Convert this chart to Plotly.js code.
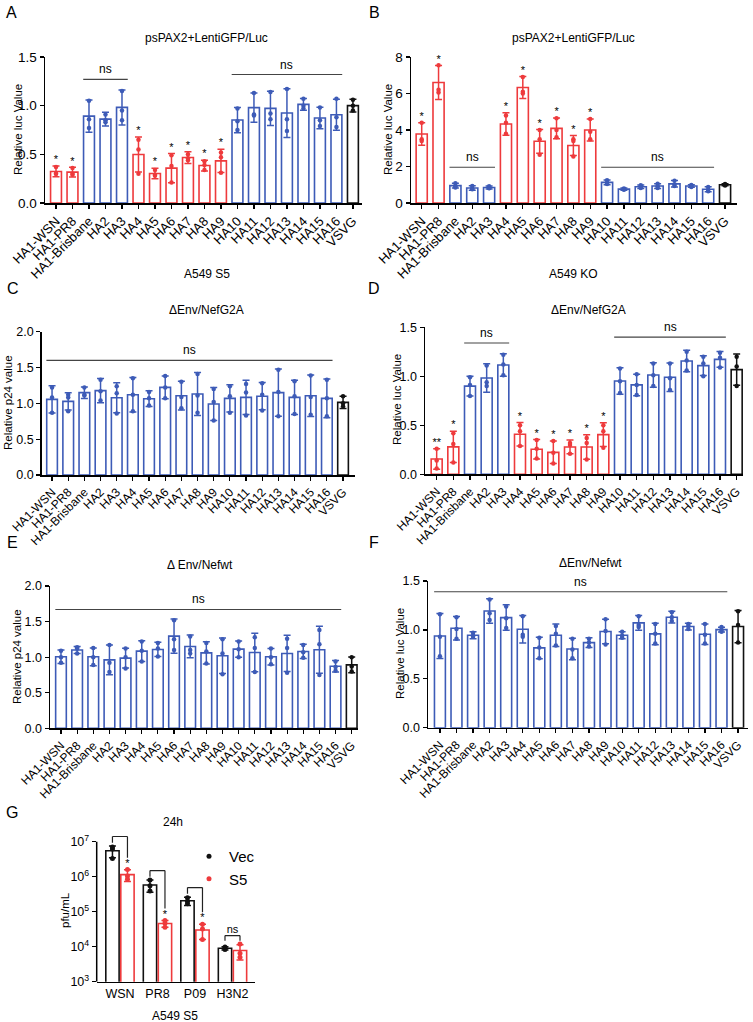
<!DOCTYPE html>
<html>
<head>
<meta charset="utf-8">
<script src="https://cdn.plot.ly/plotly-3.0.1.min.js"></script>
<style>
  html, body { margin: 0; padding: 0; background: #fff; }
  #chart { width: 753px; height: 1022px; }
</style>
</head>
<body>
<div id="chart"></div>
<script>
'use strict';

// ---- data ----
const haCats = ['HA1-WSN', 'HA1-PR8', 'HA1-Brisbane', 'HA2', 'HA3', 'HA4', 'HA5', 'HA6', 'HA7',
    'HA8', 'HA9', 'HA10', 'HA11', 'HA12', 'HA13', 'HA14', 'HA15', 'HA16', 'VSVG'];
const redHa = ['HA1-WSN', 'HA1-PR8', 'HA4', 'HA5', 'HA6', 'HA7', 'HA8', 'HA9'];

// A: psPAX2+LentiGFP/Luc, A549 S5
const aMean = [0.324, 0.317, 0.893, 0.862, 0.982, 0.498, 0.303, 0.358, 0.467, 0.385, 0.433,
    0.852, 0.980, 0.972, 0.924, 1.013, 0.873, 0.907, 1.000];
const aSd = [0.055, 0.050, 0.165, 0.070, 0.180, 0.180, 0.055, 0.150, 0.060, 0.055, 0.120,
    0.130, 0.150, 0.175, 0.250, 0.060, 0.110, 0.160, 0.065];
const aPts = [[0.37, 0.30, 0.30], [0.36, 0.30, 0.29], [1.05, 0.86, 0.77], [0.91, 0.85, 0.83],
    [1.15, 0.95, 0.85], [0.65, 0.55, 0.30], [0.34, 0.29, 0.28], [0.49, 0.38, 0.21],
    [0.50, 0.46, 0.44], [0.43, 0.39, 0.34], [0.52, 0.47, 0.31], [0.97, 0.84, 0.75],
    [1.13, 0.91, 0.90], [1.14, 0.92, 0.86], [1.17, 0.86, 0.74], [1.07, 1.00, 0.97],
    [0.98, 0.85, 0.79], [1.07, 0.88, 0.78], [1.06, 1.00, 0.95]];
const aSig = ['*', '*', '', '', '', '*', '*', '*', '*', '*', '*', '', '', '', '', '', '', '', ''];

// B: psPAX2+LentiGFP/Luc, A549 KO
const bMean = [3.78, 6.60, 0.95, 0.82, 0.85, 4.33, 6.33, 3.38, 4.09, 3.15, 4.00,
    1.13, 0.76, 0.89, 0.93, 1.05, 0.93, 0.75, 1.00];
const bSd = [0.62, 0.93, 0.13, 0.12, 0.08, 0.62, 0.60, 0.65, 0.57, 0.55, 0.60,
    0.13, 0.06, 0.10, 0.13, 0.18, 0.07, 0.14, 0.05];
const bPts = [[4.40, 3.50, 3.40], [7.55, 6.20, 6.05], [1.08, 0.92, 0.85], [0.93, 0.78, 0.75],
    [0.92, 0.82, 0.81], [4.80, 4.40, 3.80], [6.90, 6.10, 6.00], [4.00, 3.50, 2.65],
    [4.65, 4.00, 3.60], [3.50, 3.40, 2.55], [4.60, 3.90, 3.50], [1.25, 1.10, 1.04],
    [0.80, 0.76, 0.73], [0.97, 0.88, 0.82], [1.05, 0.92, 0.82], [1.22, 1.00, 0.93],
    [0.98, 0.93, 0.88], [0.88, 0.72, 0.65], [1.04, 1.00, 0.96]];
const bSig = aSig;

// C: ΔEnv/NefG2A, p24
const cMean = [1.056, 1.028, 1.149, 1.177, 1.079, 1.121, 1.065, 1.223, 1.107, 1.130, 0.990,
    1.070, 1.084, 1.100, 1.149, 1.084, 1.107, 1.070, 1.014];
const cSd = [0.19, 0.12, 0.08, 0.17, 0.21, 0.24, 0.11, 0.16, 0.20, 0.30, 0.23,
    0.19, 0.24, 0.19, 0.33, 0.24, 0.29, 0.27, 0.085];
const cPts = [[1.22, 1.08, 0.87], [1.12, 1.08, 0.89], [1.22, 1.12, 1.11], [1.33, 1.17, 1.04],
    [1.24, 1.14, 0.86], [1.35, 1.12, 0.89], [1.16, 1.07, 0.97], [1.38, 1.22, 1.07],
    [1.30, 1.09, 0.93], [1.41, 1.11, 0.87], [1.20, 1.02, 0.76], [1.24, 1.10, 0.87],
    [1.27, 1.15, 0.83], [1.28, 1.12, 0.90], [1.47, 1.16, 0.82], [1.31, 1.10, 0.85],
    [1.39, 1.09, 0.84], [1.33, 1.07, 0.82], [1.10, 1.00, 0.96]];

// D: ΔEnv/NefG2A, luc
const dMean = [0.156, 0.280, 0.900, 0.983, 1.116, 0.408, 0.255, 0.224, 0.279, 0.279, 0.405,
    0.952, 0.912, 1.014, 0.990, 1.156, 1.109, 1.173, 1.068];
const dSd = [0.105, 0.160, 0.100, 0.145, 0.115, 0.120, 0.100, 0.115, 0.070, 0.125, 0.122,
    0.135, 0.110, 0.125, 0.145, 0.110, 0.100, 0.080, 0.160];
const dPts = [[0.26, 0.14, 0.06], [0.42, 0.31, 0.12], [0.99, 0.91, 0.80], [1.11, 0.94, 0.90],
    [1.22, 1.12, 1.01], [0.50, 0.44, 0.29], [0.35, 0.26, 0.16], [0.34, 0.22, 0.11],
    [0.32, 0.30, 0.21], [0.37, 0.32, 0.15], [0.50, 0.44, 0.27], [1.08, 0.95, 0.83],
    [1.02, 0.91, 0.81], [1.13, 1.01, 0.90], [1.13, 0.98, 0.86], [1.25, 1.16, 1.06],
    [1.20, 1.13, 1.00], [1.24, 1.19, 1.09], [1.20, 1.10, 0.90]];
const dSig = ['**', '*', '', '', '', '*', '*', '*', '*', '*', '*', '', '', '', '', '', '', '', ''];

// E: ΔEnv/Nefwt, p24
const eMean = [1.005, 1.100, 1.005, 0.962, 0.986, 1.085, 1.108, 1.296, 1.150, 1.060, 1.020,
    1.113, 1.066, 1.005, 1.052, 1.080, 1.103, 0.873, 0.892];
const eSd = [0.095, 0.050, 0.125, 0.210, 0.140, 0.145, 0.100, 0.240, 0.160, 0.155, 0.250,
    0.115, 0.270, 0.115, 0.255, 0.100, 0.330, 0.080, 0.110];
const ePts = [[1.09, 1.00, 0.92], [1.14, 1.12, 1.05], [1.13, 1.00, 0.89], [1.17, 0.92, 0.79],
    [1.12, 1.00, 0.84], [1.22, 1.09, 0.94], [1.20, 1.12, 1.01], [1.52, 1.25, 1.10],
    [1.29, 1.10, 1.05], [1.20, 1.08, 0.91], [1.25, 1.05, 0.76], [1.22, 1.11, 1.00],
    [1.28, 1.13, 0.79], [1.12, 1.00, 0.90], [1.26, 1.13, 0.78], [1.17, 1.07, 0.99],
    [1.38, 1.18, 0.75], [0.94, 0.86, 0.81], [1.00, 0.87, 0.80]];

// F: ΔEnv/Nefwt, luc
const fMean = [0.938, 1.017, 0.945, 1.194, 1.126, 1.007, 0.816, 0.945, 0.805, 0.870, 0.983,
    0.945, 1.072, 0.959, 1.130, 1.034, 0.956, 1.003, 1.034];
const fSd = [0.230, 0.120, 0.035, 0.125, 0.130, 0.140, 0.110, 0.115, 0.110, 0.050, 0.125,
    0.035, 0.075, 0.110, 0.060, 0.035, 0.105, 0.025, 0.165];
const fPts = [[1.16, 0.93, 0.73], [1.13, 1.01, 0.91], [0.97, 0.94, 0.93], [1.31, 1.17, 1.10],
    [1.24, 1.12, 1.02], [1.14, 0.95, 0.93], [0.92, 0.82, 0.71], [1.04, 0.96, 0.84],
    [0.91, 0.80, 0.71], [0.91, 0.87, 0.83], [1.11, 0.99, 0.85], [0.98, 0.94, 0.92],
    [1.14, 1.05, 1.03], [1.06, 0.96, 0.86], [1.18, 1.13, 1.09], [1.06, 1.04, 1.01],
    [1.06, 0.95, 0.86], [1.03, 1.00, 0.98], [1.19, 1.05, 0.87]];

// G: virus titre 24h, A549 S5
const gCats = ['WSN', 'PR8', 'P09', 'H3N2'];
const gVecMean = [5.5e6, 5.8e5, 2.05e5, 9.0e3];
const gVecSd = [2.0e6, 2.2e5, 5.5e4, 1.0e3];
const gVecPts = [[7.0e6, 6.2e6, 3.3e6], [8.0e5, 5.5e5, 3.9e5], [2.5e5, 2.0e5, 1.7e5], [9.8e3, 9.0e3, 8.3e3]];
const gS5Mean = [1.15e6, 4.6e4, 3.0e4, 7.8e3];
const gS5Sd = [4.2e5, 1.0e4, 1.4e4, 3.6e3];
const gS5Pts = [[1.6e6, 1.05e6, 8.5e5], [5.6e4, 4.7e4, 3.6e4], [4.4e4, 3.2e4, 1.6e4], [1.2e4, 6.5e3, 5.0e3]];
const gSig = ['*', '*', '*', 'ns'];

// ---- styling ----
const FONT = 'Liberation Sans, Arial, sans-serif';
const RED = '#ee3a3c';
const BLUE = '#3d5bb7';
const BLACK = '#111111';
const W = 753, H = 1022;
const px = x => x / W;
const py = y => 1 - y / H;

function colourOf(cat, reds) {
    if (cat === 'VSVG') return BLACK;
    return reds.includes(cat) ? RED : BLUE;
}

const panels = [
    {n: 1, mean: aMean, sd: aSd, pts: aPts, sig: aSig, reds: redHa, x: [45, 362], y: [57, 203],
        xr: [-0.667, 18.55], yr: [0, 1.5], dtick: 0.5, fmt: '.1f', tfs: 13.5, cfs: 13,
        title: 'psPAX2+LentiGFP/Luc', tpos: [207, 38], ytitle: 'Relative luc Value', ypos: [18, 130]},
    {n: 2, mean: bMean, sd: bSd, pts: bPts, sig: bSig, reds: redHa, x: [411, 737], y: [57, 203],
        xr: [-0.635, 18.71], yr: [0, 8], dtick: 2, fmt: 'd', tfs: 13.5, cfs: 13,
        title: 'psPAX2+LentiGFP/Luc', tpos: [573, 38], ytitle: 'Relative luc Value', ypos: [388, 130]},
    {n: 3, mean: cMean, sd: cSd, pts: cPts, sig: null, reds: [], x: [41.7, 355], y: [331.7, 475],
        xr: [-0.64, 18.74], yr: [0, 2], dtick: 0.5, fmt: '.1f', tfs: 12.5, cfs: 12,
        title: 'ΔEnv/NefG2A', tpos: [207, 310], ytitle: 'Relative p24 value', ypos: [8, 403]},
    {n: 4, mean: dMean, sd: dSd, pts: dPts, sig: dSig, reds: redHa, x: [425, 743], y: [327.3, 474.3],
        xr: [-0.70, 18.38], yr: [0, 1.5], dtick: 0.5, fmt: '.1f', tfs: 12.5, cfs: 12,
        title: 'ΔEnv/NefG2A', tpos: [588, 310], ytitle: 'Relative luc Value', ypos: [397, 400]},
    {n: 5, mean: eMean, sd: eSd, pts: ePts, sig: null, reds: [], x: [50, 358], y: [586, 728.3],
        xr: [-0.68, 18.39], yr: [0, 2], dtick: 0.5, fmt: '.1f', tfs: 12.5, cfs: 12,
        title: 'Δ Env/Nefwt', tpos: [200, 565], ytitle: 'Relative p24 value', ypos: [17, 657]},
    {n: 6, mean: fMean, sd: fSd, pts: fPts, sig: null, reds: [], x: [428, 748], y: [581, 727.7],
        xr: [-0.72, 18.6], yr: [0, 1.5], dtick: 0.5, fmt: '.1f', tfs: 12.5, cfs: 12,
        title: 'ΔEnv/Nefwt', tpos: [590, 563], ytitle: 'Relative luc Value', ypos: [400, 654]}
];

const nsLines = [
    {n: 1, from: 'HA1-Brisbane', to: 'HA3', y: 1.27},
    {n: 1, from: 'HA10', to: 'HA16', y: 1.32},
    {n: 2, from: 'HA1-Brisbane', to: 'HA3', y: 1.96},
    {n: 2, from: 'HA10', to: 'HA16', y: 1.96},
    {n: 3, from: 'HA1-WSN', to: 'HA16', y: 1.60},
    {n: 4, from: 'HA1-Brisbane', to: 'HA3', y: 1.34},
    {n: 4, from: 'HA10', to: 'HA16', y: 1.40},
    {n: 5, from: 'HA1-WSN', to: 'HA16', y: 1.67},
    {n: 6, from: 'HA1-WSN', to: 'HA16', y: 1.39}
];

const letters = [['A', 11, 12], ['B', 374, 12], ['C', 13, 288], ['D', 374, 288],
    ['E', 12, 542], ['F', 374, 542], ['G', 12, 812]];

const traces = [];
const layout = {
    width: W,
    height: H,
    margin: {l: 0, r: 0, t: 0, b: 0},
    paper_bgcolor: '#fff',
    plot_bgcolor: 'rgba(0,0,0,0)',
    font: {family: FONT, color: '#000', size: 12},
    barmode: 'overlay',
    showlegend: true,
    legend: {x: px(189), y: py(840), xanchor: 'left', yanchor: 'top', bgcolor: 'rgba(0,0,0,0)',
        font: {size: 15, family: FONT}, itemwidth: 30, tracegroupgap: 0},
    shapes: [],
    annotations: []
};

function note(text, x, y, size, extra) {
    layout.annotations.push(Object.assign({text: text, x: px(x), y: py(y), xref: 'paper', yref: 'paper',
        xanchor: 'center', yanchor: 'middle', showarrow: false,
        font: {size: size, family: FONT, color: '#000'}}, extra || {}));
}

panels.forEach(p => {
    const sfx = p.n === 1 ? '' : String(p.n);
    const xa = 'x' + sfx, ya = 'y' + sfx;

    [RED, BLUE, BLACK].forEach(col => {
        const idx = haCats.map((c, i) => i).filter(i => colourOf(haCats[i], p.reds) === col);
        if (!idx.length) return;
        traces.push({
            type: 'bar', xaxis: xa, yaxis: ya, showlegend: false, hoverinfo: 'skip',
            x: idx.map(i => haCats[i]), y: idx.map(i => p.mean[i]), width: 0.66,
            marker: {color: '#fff', line: {color: col, width: 1.6}},
            error_y: {type: 'data', array: idx.map(i => p.sd[i]), color: col, thickness: 1.5, width: 3.5}
        });
        traces.push({
            type: 'scatter', mode: 'markers', xaxis: xa, yaxis: ya, showlegend: false, hoverinfo: 'skip',
            x: idx.flatMap(i => p.pts[i].map(() => haCats[i])), y: idx.flatMap(i => p.pts[i]),
            marker: {color: col, size: 4.5}
        });
    });

    if (p.sig) {
        const sigIdx = haCats.map((c, i) => i).filter(i => p.sig[i]);
        traces.push({
            type: 'scatter', mode: 'text', xaxis: xa, yaxis: ya, showlegend: false, hoverinfo: 'skip',
            x: sigIdx.map(i => haCats[i]), y: sigIdx.map(i => p.mean[i] + p.sd[i]),
            text: sigIdx.map(i => p.sig[i]),
            textposition: 'top center', cliponaxis: false,
            textfont: {size: 11, family: FONT, color: '#000'}
        });
    }

    layout['xaxis' + sfx] = {
        domain: [px(p.x[0]), px(p.x[1])], anchor: ya, type: 'category',
        categoryorder: 'array', categoryarray: haCats, range: p.xr,
        tickmode: 'linear', tick0: 0, dtick: 1, tickangle: -45,
        showline: true, linecolor: '#000', linewidth: 1.5, ticks: 'outside', ticklen: 4,
        tickwidth: 1.2, tickcolor: '#000', showgrid: false, zeroline: false, fixedrange: true,
        tickfont: {size: p.cfs, family: FONT, color: '#000'}
    };
    layout['yaxis' + sfx] = {
        domain: [py(p.y[1]), py(p.y[0])], anchor: xa, range: p.yr, dtick: p.dtick, tick0: 0,
        tickformat: p.fmt, showline: true, linecolor: '#000', linewidth: 1.5, ticks: 'outside',
        ticklen: 4, tickwidth: 1.2, tickcolor: '#000', showgrid: false, zeroline: false, fixedrange: true,
        tickfont: {size: p.tfs, family: FONT, color: '#000'}
    };

    note(p.title, p.tpos[0], p.tpos[1], 12);
    note(p.ytitle, p.ypos[0], p.ypos[1], 11.5, {textangle: -90});
});

nsLines.forEach(l => {
    const sfx = l.n === 1 ? '' : String(l.n);
    const i0 = haCats.indexOf(l.from), i1 = haCats.indexOf(l.to);
    layout.shapes.push({type: 'line', xref: 'x' + sfx, yref: 'y' + sfx,
        x0: i0 - 0.35, x1: i1 + 0.35, y0: l.y, y1: l.y, line: {color: '#444', width: 1.2}});
    layout.annotations.push({text: 'ns', xref: 'x' + sfx, yref: 'y' + sfx, x: (i0 + i1) / 2, y: l.y,
        yanchor: 'bottom', yshift: 1, showarrow: false, font: {size: 12, family: FONT, color: '#000'}});
});

// ---- panel G ----
const gVecX = gCats.map((c, i) => i - 0.2);
const gS5X = gCats.map((c, i) => i + 0.2);

[[gVecX, gVecMean, gVecSd, gVecPts, BLACK, 'Vec'], [gS5X, gS5Mean, gS5Sd, gS5Pts, RED, 'S5']].forEach(s => {
    const [xs, mean, sd, pts, col, name] = s;
    traces.push({
        type: 'bar', xaxis: 'x7', yaxis: 'y7', showlegend: false, hoverinfo: 'skip',
        x: xs, y: mean, width: 0.355,
        marker: {color: '#fff', line: {color: col, width: 1.6}},
        error_y: {type: 'data', array: sd, color: col, thickness: 1.5, width: 3.5}
    });
    traces.push({
        type: 'scatter', mode: 'markers', xaxis: 'x7', yaxis: 'y7', name: name, hoverinfo: 'skip',
        x: xs.flatMap((x, i) => pts[i].map(() => x)), y: pts.flat(),
        marker: {color: col, size: 5}
    });
});

// significance brackets between Vec and S5
const gTextX = [], gTextY = [];
gCats.forEach((c, i) => {
    const vecTop = gVecMean[i] + gVecSd[i];
    const s5Top = gS5Mean[i] + gS5Sd[i];
    let legL, legR, top;
    if (gSig[i] === 'ns') {
        legL = legR = Math.max(vecTop, s5Top) * 1.3;
        top = legL * 1.4;
        gTextX.push(i);
        gTextY.push(top);
    } else {
        legL = vecTop * 1.25;
        legR = s5Top * 2.2;
        top = legL * 1.5;
        gTextX.push(gS5X[i]);
        gTextY.push(s5Top);
    }
    const ln = (x0, y0, x1, y1) => layout.shapes.push({type: 'line', xref: 'x7', yref: 'y7',
        x0: x0, y0: y0, x1: x1, y1: y1, line: {color: '#222', width: 1.2}});
    ln(gVecX[i], legL, gVecX[i], top);
    ln(gVecX[i], top, gS5X[i], top);
    ln(gS5X[i], top, gS5X[i], legR);
});
traces.push({
    type: 'scatter', mode: 'text', xaxis: 'x7', yaxis: 'y7', showlegend: false, hoverinfo: 'skip',
    x: gTextX, y: gTextY, text: gSig, textposition: 'top center', cliponaxis: false,
    textfont: {size: 11, family: FONT, color: '#000'}
});

layout.xaxis7 = {
    domain: [px(96.7), px(255)], anchor: 'y7', range: [-0.62, 3.6],
    tickmode: 'array', tickvals: gCats.map((c, i) => i), ticktext: gCats,
    showline: true, linecolor: '#000', linewidth: 1.5, ticks: '', showgrid: false,
    zeroline: false, fixedrange: true, tickfont: {size: 12.5, family: FONT, color: '#000'}
};
layout.yaxis7 = {
    domain: [py(981.7), py(831.2)], anchor: 'x7', type: 'log', range: [3, 7.3],
    tickmode: 'array', tickvals: [1e3, 1e4, 1e5, 1e6, 1e7],
    ticktext: ['10<sup>3</sup>', '10<sup>4</sup>', '10<sup>5</sup>', '10<sup>6</sup>', '10<sup>7</sup>'],
    showline: false, ticks: 'outside', ticklen: 4, tickwidth: 1.2, tickcolor: '#000',
    showgrid: false, zeroline: false, fixedrange: true, tickfont: {size: 12.5, family: FONT, color: '#000'}
};
// y axis line of G stops at the top decade
layout.shapes.push({type: 'line', xref: 'x7 domain', yref: 'y7', x0: 0, x1: 0, y0: 1e3, y1: 1e7,
    line: {color: '#000', width: 1.5}});

note('24h', 173, 822, 12);
note('pfu/mL', 65, 910, 11.5, {textangle: -90});
note('A549 S5', 175, 1016, 12);
note('A549 S5', 207, 274, 12);
note('A549 KO', 573, 274, 12);

letters.forEach(l => note(l[0], l[1], l[2], 16));

Plotly.newPlot('chart', traces, layout, {staticPlot: true});
</script>
</body>
</html>
